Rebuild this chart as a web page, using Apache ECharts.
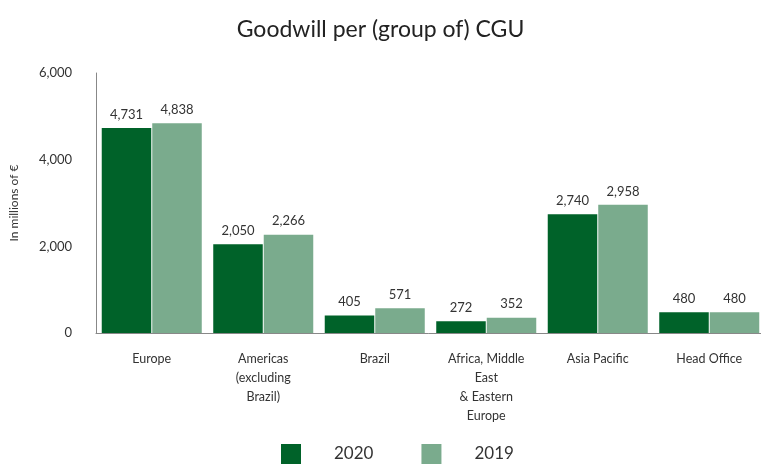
<!DOCTYPE html>
<html><head><meta charset="utf-8">
<script src="https://cdn.jsdelivr.net/npm/echarts@6/dist/echarts.min.js"></script>
<style>html,body{margin:0;padding:0;background:#fff}#c{width:761px;height:468px}</style>
</head><body><div id="c"></div>
<script>
const categories = ['Europe', 'Americas\n(excluding\nBrazil)', 'Brazil', 'Africa, Middle\nEast\n& Eastern\nEurope', 'Asia Pacific', 'Head Office'];
const values2020 = [4731, 2050, 405, 272, 2740, 480];
const values2019 = [4838, 2266, 571, 352, 2958, 480];
const yTicks = [0, 2000, 4000, 6000];
const FONT = 'Lato, "Open Sans", sans-serif';
const chart = echarts.init(document.getElementById('c'));
const lbl = {show: true, position: 'top', distance: 7, color: '#333', fontSize: 13, fontFamily: FONT,
  formatter: p => p.value.toLocaleString('en-US')};
chart.setOption({
  animation: false,
  title: {text: 'Goodwill per (group of) CGU', left: 'center', top: 13,
    textStyle: {fontSize: 23, fontWeight: 'normal', color: '#222', fontFamily: FONT}},
  legend: {bottom: -1, left: 276, itemWidth: 20, itemHeight: 20, itemGap: 48,
    icon: 'rect', textStyle: {fontSize: 17, color: '#333', fontFamily: FONT, padding: [0, 0, 0, 28]},
    data: ['2020', '2019']},
  grid: {left: 96, width: 669, top: 73, bottom: 135, outerBoundsMode: 'none', containLabel: false},
  xAxis: {type: 'category', data: categories,
    axisLine: {lineStyle: {color: '#888'}}, axisTick: {show: false},
    axisLabel: {color: '#333', fontSize: 12.5, fontFamily: FONT, lineHeight: 19, margin: 16, interval: 0}},
  yAxis: {type: 'value', min: 0, max: 6000, interval: 2000,
    name: 'In millions of €', nameLocation: 'middle', nameGap: 76, nameRotate: 90,
    nameTextStyle: {color: '#333', fontSize: 12, fontFamily: FONT},
    axisLine: {show: true, lineStyle: {color: '#888'}}, axisTick: {show: false}, splitLine: {show: false},
    axisLabel: {color: '#333', fontSize: 13, fontFamily: FONT, margin: 24,
      formatter: v => yTicks.includes(v) ? v.toLocaleString('en-US') : ''}},
  series: [
    {name: '2020', type: 'bar', data: values2020, barGap: '2%', barCategoryGap: '10.3%',
      itemStyle: {color: '#006229'}, label: lbl},
    {name: '2019', type: 'bar', data: values2019,
      itemStyle: {color: '#7aab8d'}, label: lbl}
  ]
});
</script></body></html>
